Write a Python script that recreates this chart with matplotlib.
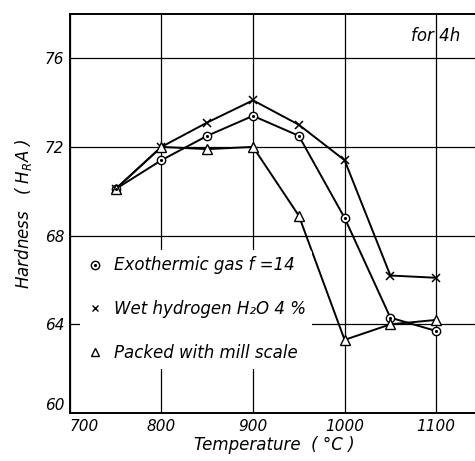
import numpy as np
import matplotlib.pyplot as plt
from matplotlib.lines import Line2D

temps = [750, 800, 850, 900, 950, 1000, 1050, 1100]
exo_gas = [70.1, 71.4, 72.5, 73.4, 72.5, 68.8, 64.3, 63.7]
wet_h2 = [70.1, 72.0, 73.1, 74.1, 73.0, 71.4, 66.2, 66.1]
mill_scale = [70.1, 72.0, 71.9, 72.0, 68.9, 63.3, 64.0, 64.2]

labels = ['Exothermic gas f =14', 'Wet hydrogen H\u2082O 4 %', 'Packed with mill scale']
xticks = [700, 800, 900, 1000, 1100]
yticks = [60, 64, 68, 72, 76]

plt.rcParams['font.family'] = 'DejaVu Sans'
plt.rcParams['font.style'] = 'italic'

fig = plt.figure(figsize=(4.75, 4.61), dpi=100)
ax = fig.add_axes([0.147, 0.104, 0.86, 0.866])

lw = 1.4
ax.plot(temps, exo_gas, color='black', lw=lw, marker='o', ms=6, mfc='white', mec='black', mew=1.0, zorder=3)
ax.plot(temps, exo_gas, ls='none', marker='.', ms=2.5, color='black', zorder=4)
ax.plot(temps, wet_h2, color='black', lw=lw, marker='x', ms=5.5, mew=1.1, zorder=3)
ax.plot(temps, mill_scale, color='black', lw=lw, marker='^', ms=6.5, mfc='white', mec='black', mew=1.0, zorder=3)

ax.set_xlim(700, 1146)
ax.set_ylim(60, 78)
ax.set_xticks(xticks)
ax.set_yticks(yticks)
ax.tick_params(length=0, labelsize=11, pad=4)
ax.grid(True, color='black', lw=0.9)
ax.spines['right'].set_visible(False)
for s in ['left', 'top', 'bottom']:
    ax.spines[s].set_linewidth(1.4)

# corner labels: 700 starts at the axis, 60 sits a bit higher
ax.get_xticklabels()[0].set_horizontalalignment('left')
ax.get_yticklabels()[0].set_verticalalignment('bottom')

ax.set_xlabel('Temperature  ( \u00b0C )', fontsize=12, labelpad=2)
ax.set_ylabel('Hardness   ( H$_{R}$A )', fontsize=12, labelpad=8)
ax.text(0.955, 0.945, 'for 4h', transform=ax.transAxes, ha='right', va='center', fontsize=12)

h_exo = (Line2D([], [], ls='none', marker='o', ms=6, mfc='white', mec='black', mew=1.0),
         Line2D([], [], ls='none', marker='.', ms=2.5, color='black'))
h_wet = Line2D([], [], ls='none', marker='x', ms=5, color='black', mew=1.0)
h_mill = Line2D([], [], ls='none', marker='^', ms=6, mfc='white', mec='black', mew=1.0)
leg = ax.legend([h_exo, h_wet, h_mill], labels, loc='upper left', bbox_to_anchor=(0.005, 0.43),
                frameon=True, fontsize=12, handlelength=1.0, labelspacing=1.55,
                borderpad=0.4, handletextpad=0.6)
leg.get_frame().set_facecolor('white')
leg.get_frame().set_edgecolor('none')
leg.get_frame().set_alpha(1.0)
leg.set_zorder(5)

plt.savefig('out.png', dpi=100)
